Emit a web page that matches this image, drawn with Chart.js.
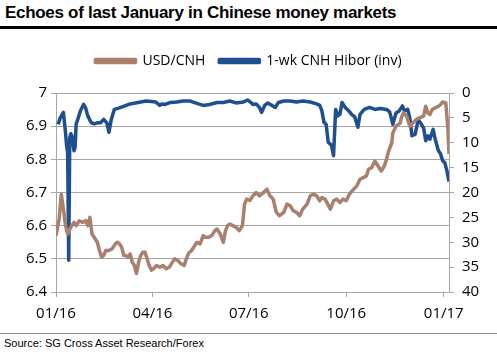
<!DOCTYPE html>
<html>
<head>
<meta charset="utf-8">
<script src="https://cdn.jsdelivr.net/npm/chart.js@4/dist/chart.umd.min.js"></script>
<style>
  body { margin: 0; background: #fff; width: 497px; height: 354px; position: relative; overflow: hidden; }
  #title { position: absolute; left: 5px; top: 3px; font: bold 17px "Liberation Sans", Arial, sans-serif; letter-spacing: -0.3px; color: #000; white-space: nowrap; }
  #rule { position: absolute; left: 0; top: 26px; width: 497px; height: 3px; background: #000; }
  #wrap { position: absolute; left: 0; top: 0; width: 497px; height: 330px; }
  #bottomRule { position: absolute; left: 0; top: 333px; width: 497px; height: 1px; background: #8c8c8c; }
  #source { position: absolute; left: 4px; top: 337px; font: 11px "Liberation Sans", Arial, sans-serif; color: #000; white-space: nowrap; }
</style>
</head>
<body>
<div id="title">Echoes of last January in Chinese money markets</div>
<div id="rule"></div>
<div id="wrap"><canvas id="chart"></canvas></div>
<div id="bottomRule"></div>
<div id="source">Source: SG Cross Asset Research/Forex</div>
<script>
// days counted from 1 Jan 2016
const tickDays = [0, 91, 182, 274, 366];
const tickLabels = ["01/16", "04/16", "07/16", "10/16", "01/17"];

const usdDays = [0, 3, 5, 7, 9, 11, 13, 15, 17, 19, 22, 25, 28, 30, 32, 34, 36, 39, 41, 43, 45, 47, 50, 53, 56, 58, 60, 62, 64, 66, 68, 70, 72, 74, 76, 78, 80, 82, 84, 86, 88, 90, 92, 95, 98, 101, 104, 107, 110, 112, 115, 118, 121, 123, 125, 128, 131, 133, 136, 139, 141, 144, 147, 150, 152, 155, 158, 160, 162, 164, 167, 170, 173, 176, 178, 180, 183, 186, 189, 192, 196, 199, 202, 205, 208, 211, 215, 218, 221, 224, 227, 230, 233, 237, 240, 243, 246, 249, 251, 254, 259, 262, 265, 268, 271, 274, 277, 281, 284, 287, 290, 293, 295, 298, 301, 304, 307, 310, 312, 314, 317, 318, 321, 325, 326, 328, 331, 334, 337, 340, 343, 347, 349, 351, 353, 355, 358, 361, 363, 365, 368, 370, 371];
const usdValues = [6.57, 6.62, 6.695, 6.65, 6.6, 6.575, 6.59, 6.6, 6.61, 6.6, 6.615, 6.61, 6.615, 6.6, 6.625, 6.575, 6.565, 6.55, 6.525, 6.506, 6.51, 6.525, 6.525, 6.53, 6.545, 6.55, 6.545, 6.535, 6.51, 6.51, 6.505, 6.515, 6.49, 6.48, 6.456, 6.49, 6.51, 6.52, 6.52, 6.5, 6.48, 6.466, 6.47, 6.48, 6.475, 6.48, 6.47, 6.475, 6.49, 6.5, 6.495, 6.485, 6.48, 6.5, 6.516, 6.525, 6.54, 6.55, 6.545, 6.57, 6.565, 6.565, 6.57, 6.585, 6.59, 6.575, 6.55, 6.585, 6.6, 6.605, 6.6, 6.595, 6.585, 6.6, 6.665, 6.68, 6.676, 6.69, 6.7, 6.69, 6.7, 6.71, 6.69, 6.68, 6.64, 6.63, 6.64, 6.665, 6.66, 6.645, 6.64, 6.63, 6.65, 6.665, 6.69, 6.695, 6.69, 6.675, 6.685, 6.68, 6.65, 6.675, 6.68, 6.67, 6.68, 6.675, 6.695, 6.71, 6.72, 6.74, 6.745, 6.75, 6.77, 6.775, 6.795, 6.78, 6.765, 6.78, 6.8, 6.825, 6.85, 6.88, 6.9, 6.91, 6.925, 6.94, 6.93, 6.9, 6.91, 6.92, 6.925, 6.93, 6.96, 6.94, 6.935, 6.95, 6.955, 6.96, 6.965, 6.973, 6.97, 6.89, 6.816];

const hiborDays = [2, 4, 7, 9, 10, 11, 12, 13, 14, 15, 17, 18, 19, 21, 23, 26, 28, 30, 33, 36, 39, 42, 45, 48, 50, 52, 55, 60, 65, 70, 75, 80, 85, 90, 94, 98, 100, 103, 108, 114, 120, 126, 133, 139, 145, 152, 158, 164, 170, 177, 181, 186, 189, 192, 194, 197, 200, 204, 207, 210, 215, 221, 227, 233, 240, 246, 249, 251, 253, 255, 257, 260, 262, 264, 266, 268, 270, 273, 276, 279, 282, 285, 287, 291, 296, 301, 306, 312, 315, 318, 321, 324, 327, 329, 332, 334, 336, 339, 342, 345, 347, 349, 351, 353, 356, 358, 361, 363, 365, 367, 369, 371];
const hiborValues = [6.3, 5.0, 3.9, 8, 10.6, 12, 33.6, 9, 8.2, 8.6, 11.6, 11, 6.3, 5, 3.6, 2.3, 3.0, 4.6, 5.9, 6.2, 6.0, 6.0, 5.3, 6.0, 7.9, 5.5, 3.3, 3.0, 2.6, 2.2, 2.0, 1.8, 1.6, 1.7, 1.8, 2.5, 2.2, 2.3, 1.9, 1.8, 1.6, 1.6, 2.1, 2.5, 2.3, 1.9, 1.9, 1.6, 2.0, 1.8, 1.4, 2.3, 2.2, 2.9, 3.9, 2.5, 2.0, 2.5, 2.9, 1.9, 1.6, 1.6, 1.8, 1.6, 1.8, 2.2, 2.5, 3.6, 5.9, 6.3, 9.9, 10.5, 12.6, 3.3, 4.6, 4.3, 1.9, 2.9, 3.5, 4.3, 4.8, 6.9, 4.3, 3.3, 2.9, 3.3, 3.1, 3.3, 3.8, 6.3, 4.0, 3.6, 2.6, 3.6, 3.3, 5.0, 8.6, 8.3, 5.3, 6.3, 7.0, 9.6, 8.6, 9.3, 7.3, 9.3, 11.6, 12.2, 13.6, 14.0, 15.6, 17.8];

const toPoints = (xs, ys) => xs.map((d, i) => ({ x: d, y: ys[i] }));

const tickFont = { family: "'Open Sans', sans-serif", size: 15 };
const gridColor = '#a6a6a6';

// extra room between legend and plot
const legendGap = {
    id: 'legendGap',
    beforeInit(chart) {
        const fit = chart.legend.fit;
        chart.legend.fit = function () {
            fit.bind(chart.legend)();
            this.height += 15;
        };
    }
};

new Chart(document.getElementById('chart').getContext('2d'), {
    type: 'line',
    data: {
        datasets: [
            {
                label: 'USD/CNH',
                data: toPoints(usdDays, usdValues),
                borderColor: '#a9806c',
                backgroundColor: '#a9806c',
                borderWidth: 3.5,
                pointRadius: 0,
                tension: 0,
                borderJoinStyle: 'round',
                yAxisID: 'y'
            },
            {
                label: '1-wk CNH Hibor (inv)',
                data: toPoints(hiborDays, hiborValues),
                borderColor: '#1d4f91',
                backgroundColor: '#1d4f91',
                borderWidth: 3.5,
                pointRadius: 0,
                tension: 0,
                borderJoinStyle: 'round',
                yAxisID: 'y2'
            }
        ]
    },
    plugins: [legendGap],
    options: {
        responsive: true,
        maintainAspectRatio: false,
        animation: { duration: 0 },
        layout: { padding: { top: 40, left: 0, right: 0, bottom: 0 } },
        plugins: {
            legend: {
                display: true,
                labels: {
                    boxWidth: 40,
                    boxHeight: 3,
                    padding: 14,
                    color: '#000',
                    font: { family: "'Open Sans', sans-serif", size: 14 }
                }
            },
            title: { display: false },
            tooltip: { enabled: false }
        },
        scales: {
            x: {
                type: 'linear',
                min: 0,
                max: 371,
                afterBuildTicks: (scale) => { scale.ticks = tickDays.map(v => ({ value: v })); },
                afterFit: (scale) => { scale.height = 38; },
                ticks: {
                    color: '#000',
                    font: tickFont,
                    padding: 8,
                    maxRotation: 0,
                    autoSkip: false,
                    callback: (v) => tickLabels[tickDays.indexOf(v)]
                },
                grid: { drawOnChartArea: false, drawTicks: true, tickLength: 5, color: gridColor },
                border: { color: gridColor }
            },
            y: {
                position: 'left',
                min: 6.4,
                max: 7,
                afterFit: (scale) => { scale.width = 56; },
                ticks: {
                    stepSize: 0.1,
                    color: '#000',
                    font: tickFont,
                    padding: 4,
                    callback: (v) => Math.round(v * 10) / 10
                },
                grid: { color: gridColor, tickLength: 5 },
                border: { color: gridColor }
            },
            y2: {
                position: 'right',
                reverse: true,
                min: 0,
                max: 40,
                afterFit: (scale) => { scale.width = 48; },
                ticks: { stepSize: 5, color: '#000', font: tickFont, padding: 8 },
                grid: { drawOnChartArea: false, tickLength: 5, color: gridColor },
                border: { color: gridColor }
            }
        }
    }
});
</script>
</body>
</html>
